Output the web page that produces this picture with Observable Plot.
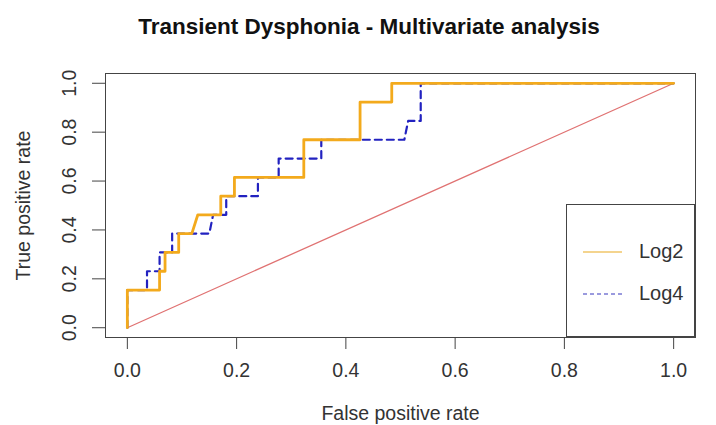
<!DOCTYPE html>
<html>
<head>
<meta charset="utf-8">
<script src="https://cdn.jsdelivr.net/npm/d3@7"></script>
<script src="https://cdn.jsdelivr.net/npm/@observablehq/plot@0.6"></script>
<style>
  body { margin: 0; background: #fff; }
  #wrap { position: relative; width: 716px; height: 425px; background: #fff; font-family: "Liberation Sans", Arial, sans-serif; overflow: hidden; }
  #title { position: absolute; left: 369px; top: 16px; transform: translateX(-50%); white-space: nowrap; font-weight: bold; font-size: 22.5px; line-height: 1; color: #111; }
  #chart { position: absolute; left: 0; top: 45px; }
  #legend { position: absolute; left: 566px; top: 204px; width: 129px; height: 133px; box-sizing: border-box; border: 1px solid #444; background: #fff; }
  .lg { position: absolute; left: 0; width: 127px; height: 20px; }
  .lg svg { position: absolute; left: 16px; top: 0; }
  .lg span { position: absolute; left: 72px; top: -2px; font-size: 20px; line-height: 23px; color: #333; }
</style>
</head>
<body>
<div id="wrap">
  <div id="title">Transient Dysphonia - Multivariate analysis</div>
  <div id="chart"></div>
  <div id="legend"></div>
</div>
<script>
// ---- data ----
const title = "Transient Dysphonia - Multivariate analysis";
const xTicks = [0, 0.2, 0.4, 0.6, 0.8, 1.0];
const yTicks = [0, 0.2, 0.4, 0.6, 0.8, 1.0];
const seriesNames = ["Log2", "Log4"];
const seriesColors = ["#f3aa1c", "#2222c0"];

// ROC vertices (false positive rate, true positive rate)
const log2Fpr = [0, 0, 0.059, 0.059, 0.069, 0.069, 0.094, 0.094, 0.118, 0.129, 0.171, 0.171, 0.196, 0.196, 0.323, 0.323, 0.426, 0.426, 0.484, 0.484, 1];
const log2Tpr = [0, 0.154, 0.154, 0.231, 0.231, 0.308, 0.308, 0.385, 0.385, 0.462, 0.462, 0.538, 0.538, 0.615, 0.615, 0.769, 0.769, 0.923, 0.923, 1, 1];

const log4Fpr = [0, 0, 0.036, 0.036, 0.059, 0.059, 0.082, 0.082, 0.150, 0.157, 0.181, 0.181, 0.239, 0.239, 0.277, 0.277, 0.355, 0.355, 0.507, 0.514, 0.537, 0.537, 1];
const log4Tpr = [0, 0.154, 0.154, 0.231, 0.231, 0.308, 0.308, 0.385, 0.385, 0.462, 0.462, 0.538, 0.538, 0.615, 0.615, 0.692, 0.692, 0.769, 0.769, 0.846, 0.846, 1, 1];

const diagFpr = [0, 1];
const diagTpr = [0, 1];

// ---- build tables ----
const toRows = (xs, ys) => xs.map((x, i) => ({fpr: x, tpr: ys[i]}));
const log2 = toRows(log2Fpr, log2Tpr);
const log4 = toRows(log4Fpr, log4Tpr);
const diag = toRows(diagFpr, diagTpr);

document.getElementById("title").textContent = title;

const chart = Plot.plot({
  width: 716,
  height: 380,
  marginLeft: 105,
  marginRight: 21,
  marginTop: 28,
  marginBottom: 88,
  x: {domain: [-0.04, 1.04]},
  y: {domain: [-0.04, 1.04]},
  style: {fontFamily: "Liberation Sans, Arial, sans-serif", fontSize: "19.5px", color: "#333", background: "white"},
  marks: [
    Plot.frame({stroke: "#444", strokeWidth: 1}),
    Plot.axisX({ticks: xTicks, tickSize: 12, tickPadding: 14, tickFormat: d => d.toFixed(1), label: null, fontSize: 19.5, stroke: "#444"}),
    Plot.axisY({ticks: yTicks, tickSize: 13, tickFormat: () => "", label: null, stroke: "#444"}),
    Plot.text(yTicks, {y: d => d, text: d => d.toFixed(1), frameAnchor: "left", textAnchor: "middle", dx: -36, rotate: -90, fontSize: 19.5, fill: "#333"}),
    Plot.line(diag, {x: "fpr", y: "tpr", stroke: "#e07272", strokeWidth: 1.3}),
    Plot.line(log4, {x: "fpr", y: "tpr", stroke: seriesColors[1], strokeWidth: 2.2, strokeDasharray: "7,5"}),
    Plot.line(log2, {x: "fpr", y: "tpr", stroke: seriesColors[0], strokeWidth: 2.8}),
    Plot.text(["False positive rate"], {frameAnchor: "bottom", dy: 82, fontSize: 19.5, fill: "#333"}),
    Plot.text(["True positive rate"], {frameAnchor: "left", textAnchor: "middle", dx: -82, rotate: -90, fontSize: 19.5, fill: "#333"})
  ]
});
document.getElementById("chart").appendChild(chart);

// ---- legend ----
const legend = document.getElementById("legend");
const legendColors = ["#f0c668", "#7a7ad4"];
const legendDash = [null, "4,3"];
const legendTop = [37, 79];
seriesNames.forEach((name, i) => {
  const row = document.createElement("div");
  row.className = "lg";
  row.style.top = legendTop[i] + "px";
  row.innerHTML = `<svg width="40" height="20"><line x1="0" x2="39" y1="10" y2="10" stroke="${legendColors[i]}" stroke-width="1.6" ${legendDash[i] ? `stroke-dasharray="${legendDash[i]}"` : ""}/></svg><span>${name}</span>`;
  legend.appendChild(row);
});
</script>
</body>
</html>
